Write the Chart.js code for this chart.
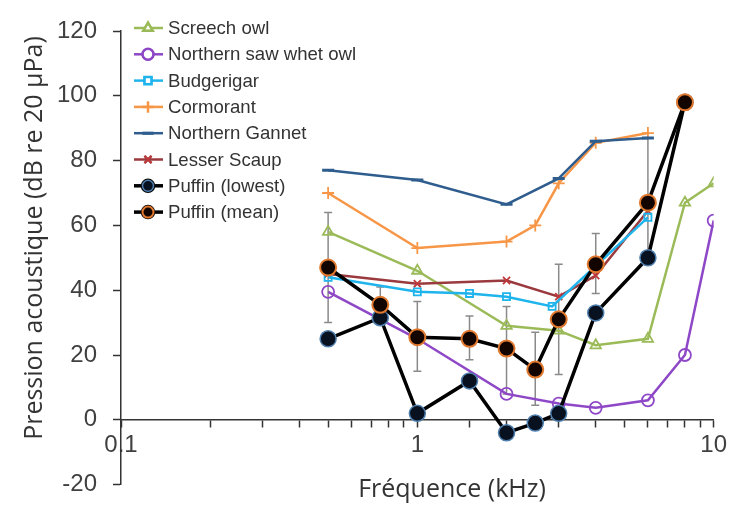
<!DOCTYPE html>
<html>
<head>
<meta charset="utf-8">
<script src="https://cdn.jsdelivr.net/npm/chart.js@4/dist/chart.umd.min.js"></script>
<style>
  body { margin: 0; background: #fff; }
  #wrap { width: 731px; height: 515px; position: relative; }
</style>
</head>
<body>
<div id="wrap"><canvas id="audiogram"></canvas></div>
<script>
// frequencies (kHz) and thresholds (dB re 20 µPa)
var screechFreq = [0.5, 1, 2, 3, 4, 6, 8, 10];
var screechDb   = [58, 46, 29, 27.5, 23, 25, 67, 73];

var sawWhetFreq = [0.5, 1, 2, 3, 4, 6, 8, 10];
var sawWhetDb   = [39.5, 25, 8, 5, 3.7, 6, 20, 61.5];

var budgieFreq = [0.5, 1, 1.5, 2, 2.85, 6];
var budgieDb   = [44, 39.5, 39, 38, 35, 62.5];

var cormorantFreq = [0.5, 1, 2, 2.5, 3, 4, 6];
var cormorantDb   = [70, 53, 55, 60, 73, 85.5, 88.5];

var gannetFreq = [0.5, 1, 2, 3, 4, 6];
var gannetDb   = [77, 74, 66.5, 74.5, 86, 87];

var scaupFreq = [0.5, 1, 2, 3, 4, 6];
var scaupDb   = [45, 42, 43, 38, 44.5, 64.5];

var puffinFreq   = [0.5, 0.75, 1, 1.5, 2, 2.5, 3, 4, 6, 8];
var puffinLowest = [25, 31.5, 2, 12, -4, -1, 2, 33, 50, 98];
var puffinMean   = [47, 35.5, 25.5, 25, 22, 15.5, 31, 48, 67, 98];
var puffinHigh   = [64, 41, 36.5, 32, 35, 27, 48, 57.5, 87, null];
var puffinLow    = [30, 30, 15, 18.5, 8, 4.5, 14, 39, 49, null];

var yTicks = [-20, 0, 20, 40, 60, 80, 100, 120];
var xLabels = [0.1, 1, 10];

function pts(xs, ys) {
    return xs.map(function(x, i) { return { x: x, y: ys[i] }; });
}

var hollow = 'rgba(255,255,255,0)';

var datasets = [
    { label: 'Screech owl', data: pts(screechFreq, screechDb), borderColor: '#9bbb59',
      pointStyle: 'triangle', pointRadius: 6, pointBackgroundColor: hollow, pointBorderColor: '#9bbb59', order: 5 },
    { label: 'Northern saw whet owl', data: pts(sawWhetFreq, sawWhetDb), borderColor: '#8e47c6',
      pointStyle: 'circle', pointRadius: 6, pointBackgroundColor: hollow, pointBorderColor: '#8e47c6', order: 5 },
    { label: 'Budgerigar', data: pts(budgieFreq, budgieDb), borderColor: '#1fb4ec',
      pointStyle: 'rect', pointRadius: 5, pointBackgroundColor: hollow, pointBorderColor: '#1fb4ec', order: 4 },
    { label: 'Cormorant', data: pts(cormorantFreq, cormorantDb), borderColor: '#f79646',
      pointStyle: 'cross', pointRadius: 6, pointBorderColor: '#f79646', order: 5 },
    { label: 'Northern Gannet', data: pts(gannetFreq, gannetDb), borderColor: '#2f5d8e',
      pointStyle: 'line', pointRadius: 6, pointBorderWidth: 3, pointBorderColor: '#2f5d8e', order: 4 },
    { label: 'Lesser Scaup', data: pts(scaupFreq, scaupDb), borderColor: '#9a3a3e',
      pointStyle: 'crossRot', pointRadius: 5, pointBorderColor: '#c0393b', order: 4 },
    { label: 'Puffin (lowest)', data: pts(puffinFreq, puffinLowest), borderColor: '#000',
      borderWidth: 3.5, pointStyle: 'circle', pointRadius: 8, pointBackgroundColor: '#07111f',
      pointBorderColor: '#4f7fae', pointBorderWidth: 1.5, order: 2 },
    { label: 'Puffin (mean)', data: pts(puffinFreq, puffinMean), borderColor: '#000',
      borderWidth: 3.5, pointStyle: 'circle', pointRadius: 8, pointBackgroundColor: '#120500',
      pointBorderColor: '#e0782e', pointBorderWidth: 2, order: 1 }
];
datasets.forEach(function(d) {
    if (d.borderWidth === undefined) d.borderWidth = 2.5;
    if (d.pointBorderWidth === undefined) d.pointBorderWidth = 1.8;
    d.fill = false;
    d.tension = 0;
    d.pointHoverRadius = d.pointRadius;
});

// error bars of the puffin mean, drawn through the scales
var errorBars = {
    id: 'errorBars',
    beforeDatasetsDraw: function(chart) {
        var ctx = chart.ctx, xs = chart.scales.x, ys = chart.scales.y;
        ctx.save();
        ctx.strokeStyle = '#8a8a8a';
        ctx.lineWidth = 1.5;
        puffinFreq.forEach(function(f, i) {
            if (puffinHigh[i] == null) return;
            var px = xs.getPixelForValue(f);
            var top = ys.getPixelForValue(puffinHigh[i]);
            var bot = ys.getPixelForValue(puffinLow[i]);
            ctx.beginPath();
            ctx.moveTo(px, top); ctx.lineTo(px, bot);
            ctx.moveTo(px - 4, top); ctx.lineTo(px + 4, top);
            ctx.moveTo(px - 4, bot); ctx.lineTo(px + 4, bot);
            ctx.stroke();
        });
        ctx.restore();
    }
};

// legend with line + marker samples, and the two axis titles
var extras = {
    id: 'extras',
    afterDraw: function(chart) {
        var ctx = chart.ctx;
        ctx.save();
        ctx.font = '18.6px "Liberation Sans", Arial, sans-serif';
        ctx.textBaseline = 'middle';
        ctx.textAlign = 'left';
        datasets.forEach(function(d, i) {
            var y = 28 + i * 26.3;
            ctx.strokeStyle = d.borderColor;
            ctx.lineWidth = d.borderWidth;
            ctx.beginPath();
            ctx.moveTo(134, y); ctx.lineTo(163, y);
            ctx.stroke();
            var opts = {
                pointStyle: d.pointStyle,
                radius: Math.min(d.pointRadius, 5.5),
                borderWidth: d.pointBorderWidth
            };
            ctx.fillStyle = '#fff';
            Chart.helpers.drawPoint(ctx, opts, 148, y);
            ctx.strokeStyle = d.pointBorderColor;
            ctx.fillStyle = d.pointBackgroundColor || hollow;
            ctx.lineWidth = d.pointBorderWidth;
            Chart.helpers.drawPoint(ctx, opts, 148, y);
            ctx.fillStyle = '#333';
            ctx.fillText(d.label, 168, y + 1);
        });

        ctx.fillStyle = '#333';
        ctx.font = '25px "Open Sans", sans-serif';
        ctx.textAlign = 'center';
        ctx.fillText('Fréquence (kHz)', 452, 490);
        ctx.translate(35, 238);
        ctx.rotate(-Math.PI / 2);
        ctx.fillText('Pression acoustique (dB re 20 µPa)', 0, 0);
        ctx.restore();
    }
};

new Chart(document.getElementById('audiogram'), {
    type: 'line',
    data: { datasets: datasets },
    options: {
        responsive: true,
        maintainAspectRatio: false,
        animation: false,
        layout: { padding: { left: 0, right: 14, top: 31, bottom: 30 } },
        plugins: { legend: { display: false }, tooltip: { enabled: false } },
        scales: {
            x: {
                type: 'logarithmic',
                position: { y: 0 },
                min: 0.1,
                max: 10,
                grid: { drawOnChartArea: false, drawTicks: true, tickLength: 7, tickColor: '#333', tickWidth: 1.5 },
                border: { color: '#333', width: 1.5 },
                ticks: {
                    autoSkip: false,
                    maxRotation: 0,
                    padding: 4,
                    color: '#404040',
                    font: { family: '"Liberation Sans", Arial, sans-serif', size: 24 },
                    callback: function(v) {
                        var hit = xLabels.filter(function(l) { return Math.abs(l - v) < 1e-9; });
                        return hit.length ? String(hit[0]) : '';
                    }
                }
            },
            y: {
                position: 'left',
                min: yTicks[0],
                max: yTicks[yTicks.length - 1],
                afterFit: function(scale) { scale.width = 121; },
                afterBuildTicks: function(scale) {
                    scale.ticks = yTicks.map(function(v) { return { value: v }; });
                },
                grid: { drawOnChartArea: false, drawTicks: true, tickLength: 8, tickColor: '#333', tickWidth: 1.5 },
                border: { color: '#333', width: 1.5 },
                ticks: {
                    padding: 16,
                    color: '#404040',
                    font: { family: '"Liberation Sans", Arial, sans-serif', size: 24 }
                }
            }
        }
    },
    plugins: [errorBars, extras]
});
</script>
</body>
</html>
